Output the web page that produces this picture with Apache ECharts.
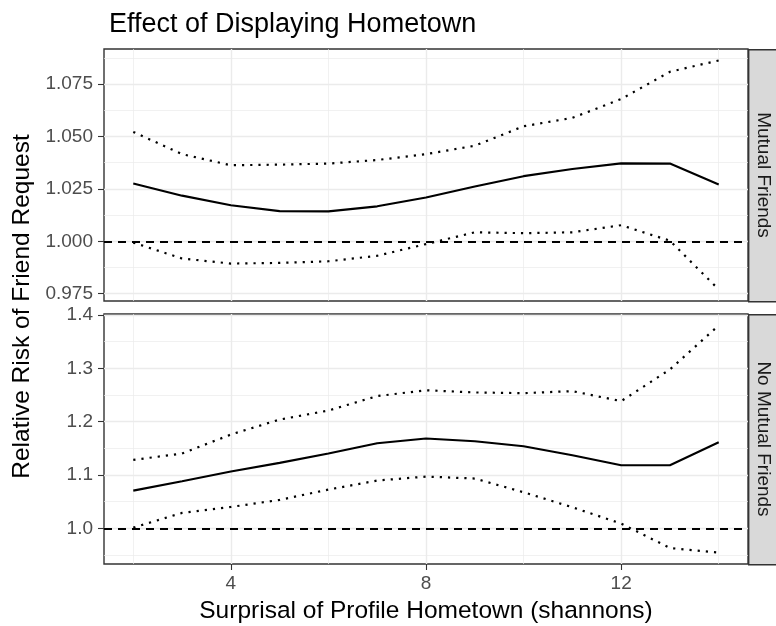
<!DOCTYPE html>
<html>
<head>
<meta charset="utf-8">
<script src="https://cdn.jsdelivr.net/npm/echarts@6/dist/echarts.min.js"></script>
<style>
html, body { margin: 0; padding: 0; background: #fff; }
#chart { width: 776px; height: 626px; }
</style>
</head>
<body>
<div id="chart"></div>
<script>
// surprisal of profile hometown (shannons)
var surprisal = [2, 3, 4, 5, 6, 7, 8, 9, 10, 11, 12, 13, 14];

// panel 1: mutual friends
var mutualRisk  = [1.0276, 1.0218, 1.0172, 1.0144, 1.0143, 1.0167, 1.0209, 1.0262, 1.0311, 1.0345, 1.0372, 1.0371, 1.0271];
var mutualLower = [0.9994, 0.9918, 0.9894, 0.9897, 0.9905, 0.9931, 0.9987, 1.0043, 1.0039, 1.0043, 1.0077, 1.0003, 0.9770];
var mutualUpper = [1.0522, 1.0416, 1.0363, 1.0366, 1.0371, 1.0388, 1.0416, 1.0456, 1.0549, 1.0589, 1.0679, 1.0809, 1.0863];

// panel 2: no mutual friends
var noMutualRisk  = [1.0707, 1.0883, 1.1064, 1.1227, 1.1402, 1.1596, 1.1684, 1.1634, 1.1540, 1.1371, 1.1183, 1.1183, 1.1615];
var noMutualLower = [1.0013, 1.0288, 1.0400, 1.0532, 1.0726, 1.0895, 1.0970, 1.0933, 1.0676, 1.0394, 1.0088, 0.9630, 0.9543];
var noMutualUpper = [1.1283, 1.1402, 1.1759, 1.2040, 1.2210, 1.2480, 1.2590, 1.2548, 1.2535, 1.2573, 1.2385, 1.2980, 1.3807];

var panelNames = ['Mutual Friends', 'No Mutual Friends'];
var nullRisk = 1;

var xBreaks = [4, 8, 12];
var xMinorBreaks = [2, 6, 10, 14];
var mutualBreaks = [0.975, 1.000, 1.025, 1.050, 1.075];
var mutualMinorBreaks = [0.9875, 1.0125, 1.0375, 1.0625, 1.0875];
var noMutualBreaks = [1.0, 1.1, 1.2, 1.3, 1.4];
var noMutualMinorBreaks = [0.95, 1.05, 1.15, 1.25, 1.35];

var FONT = 'Liberation Sans, Arial, sans-serif';

// ggplot style 5% expansion
function expand(arrs) {
    var all = [].concat.apply([], arrs);
    var lo = Math.min.apply(null, all), hi = Math.max.apply(null, all);
    var pad = (hi - lo) * 0.05;
    return { min: lo - pad, max: hi + pad };
}
var xr = expand([surprisal]);
var y1 = expand([mutualRisk, mutualLower, mutualUpper]);
var y2 = expand([noMutualRisk, noMutualLower, noMutualUpper]);

var panelLeft = 104, panelW = 644, stripW = 28;
var panels = [{ top: 49, height: 252 }, { top: 314, height: 250 }];

function pairs(ys) {
    return surprisal.map(function (x, i) { return [x, ys[i]]; });
}

function xAxisFor(grid, minor, labels) {
    var ax = {
        type: 'value', gridIndex: grid, min: xr.min, max: xr.max,
        axisLine: { show: false },
        axisTick: { show: !minor && labels, customValues: minor ? xMinorBreaks : xBreaks, length: 6, lineStyle: { color: '#333', width: 1.1 } },
        axisLabel: { show: !minor && labels, customValues: xBreaks, color: '#4d4d4d', fontSize: 19, fontFamily: FONT, margin: 10 },
        splitLine: { show: true, lineStyle: { color: '#ebebeb', width: minor ? 0.7 : 1.4 } }
    };
    if (labels && !minor) {
        ax.name = 'Surprisal of Profile Hometown (shannons)';
        ax.nameLocation = 'middle';
        ax.nameGap = 35;
        ax.nameTextStyle = { color: '#000', fontSize: 24.5, fontFamily: FONT };
    }
    return ax;
}

function yAxisFor(grid, range, breaks, minorBreaks, digits, minor) {
    return {
        type: 'value', gridIndex: grid, min: range.min, max: range.max,
        position: 'left',
        axisLine: { show: false },
        axisTick: { show: !minor, customValues: minor ? minorBreaks : breaks, length: 6, lineStyle: { color: '#333', width: 1.1 } },
        axisLabel: { show: !minor, customValues: breaks, color: '#4d4d4d', fontSize: 19, fontFamily: FONT, margin: 11,
            formatter: function (v) { return v.toFixed(digits); } },
        splitLine: { show: true, lineStyle: { color: '#ebebeb', width: minor ? 0.7 : 1.4 } }
    };
}

function lineSeries(idx, ys, dotted, withRef) {
    var s = {
        type: 'line', xAxisIndex: idx * 2, yAxisIndex: idx * 2,
        data: pairs(ys), showSymbol: false, silent: true, z: 5,
        lineStyle: dotted ? { color: '#000', width: 2.2, type: [2.2, 6] } : { color: '#000', width: 2.1 }
    };
    if (withRef) {
        s.markLine = {
            silent: true, symbol: 'none', label: { show: false },
            lineStyle: { color: '#000', width: 2, type: [8, 6] },
            data: [{ yAxis: nullRisk }]
        };
    }
    return s;
}

var chart = echarts.init(document.getElementById('chart'));

var graphics = [];
panels.forEach(function (p, i) {
    graphics.push({
        type: 'rect', left: panelLeft + panelW, top: p.top,
        shape: { width: stripW, height: p.height },
        style: { fill: '#d9d9d9', stroke: '#333', lineWidth: 1.4 }
    });
    graphics.push({
        type: 'text', x: panelLeft + panelW + stripW / 2 + 1, y: p.top + p.height / 2,
        rotation: -Math.PI / 2,
        style: { text: panelNames[i], fill: '#1a1a1a', fontSize: 19, fontFamily: FONT, align: 'center', verticalAlign: 'middle' }
    });
});
graphics.push({
    type: 'text', x: 22, y: (panels[0].top + panels[1].top + panels[1].height) / 2,
    rotation: Math.PI / 2,
    style: { text: 'Relative Risk of Friend Request', fill: '#000', fontSize: 24.5, fontFamily: FONT, align: 'center', verticalAlign: 'middle' }
});

var option = {
    backgroundColor: '#fff',
    animation: false,
    title: {
        text: 'Effect of Displaying Hometown',
        left: panelLeft, top: 6,
        textStyle: { color: '#000', fontSize: 27, fontWeight: 'normal', fontFamily: FONT }
    },
    grid: panels.map(function (p) {
        return { left: panelLeft, top: p.top, width: panelW, height: p.height,
                 show: true, borderColor: '#333', borderWidth: 1.4, backgroundColor: '#fff', containLabel: false };
    }),
    xAxis: [
        xAxisFor(0, false, false), xAxisFor(0, true, false),
        xAxisFor(1, false, true), xAxisFor(1, true, true)
    ],
    yAxis: [
        yAxisFor(0, y1, mutualBreaks, mutualMinorBreaks, 3, false),
        yAxisFor(0, y1, mutualBreaks, mutualMinorBreaks, 3, true),
        yAxisFor(1, y2, noMutualBreaks, noMutualMinorBreaks, 1, false),
        yAxisFor(1, y2, noMutualBreaks, noMutualMinorBreaks, 1, true)
    ],
    graphic: graphics,
    series: [
        lineSeries(0, mutualRisk, false, true),
        lineSeries(0, mutualLower, true, false),
        lineSeries(0, mutualUpper, true, false),
        lineSeries(1, noMutualRisk, false, true),
        lineSeries(1, noMutualLower, true, false),
        lineSeries(1, noMutualUpper, true, false)
    ]
};
chart.setOption(option);
</script>
</body>
</html>
